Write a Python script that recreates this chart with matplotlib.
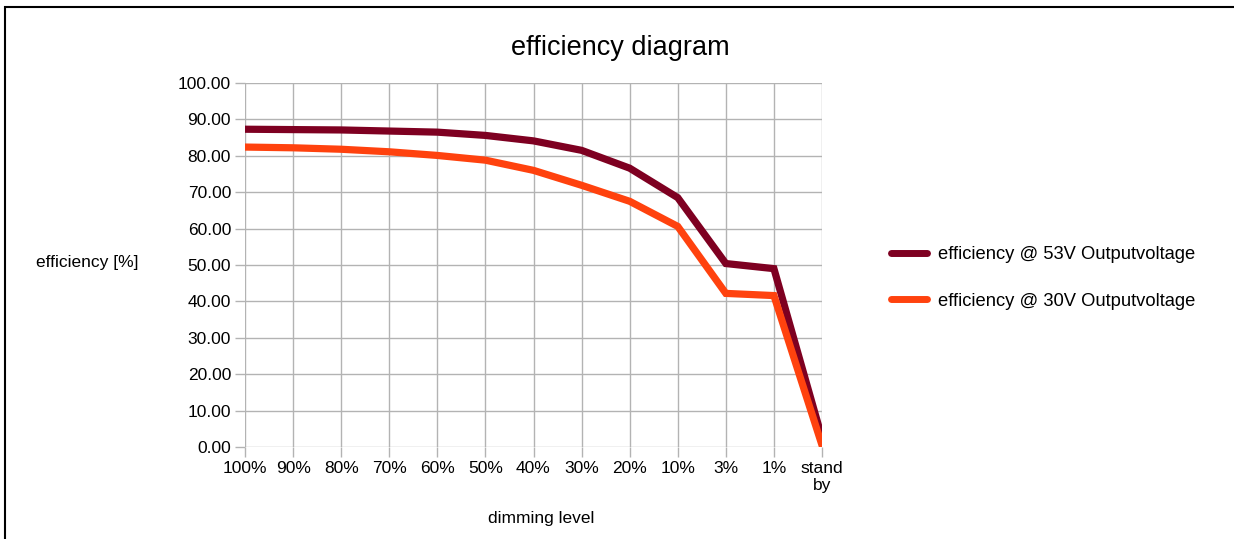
import matplotlib
matplotlib.use('Agg')
import matplotlib.pyplot as plt
from matplotlib.lines import Line2D

# dimming levels (x categories)
niveis = ['100%', '90%', '80%', '70%', '60%', '50%', '40%', '30%', '20%', '10%', '3%', '1%', 'stand\nby']

# efficiency values
ef_53v = [87.3, 87.2, 87.1, 86.8, 86.5, 85.6, 84.1, 81.5, 76.6, 68.5, 50.4, 49.0, 2.5]
ef_30v = [82.4, 82.2, 81.8, 81.1, 80.1, 78.8, 76.0, 71.9, 67.5, 60.6, 42.2, 41.6, 0.5]

cor_53v = '#7e0021'
cor_30v = '#ff420e'

plt.rcParams['font.family'] = ['Liberation Sans', 'DejaVu Sans']

fig = plt.figure(figsize=(12.34, 5.39), dpi=100)
ax = fig.add_axes([245 / 1234, 1 - 447 / 539, 577 / 1234, 364 / 539])

x = list(range(len(niveis)))
ax.plot(x, ef_53v, color=cor_53v, lw=5.2, solid_joinstyle='miter', zorder=3)
ax.plot(x, ef_30v, color=cor_30v, lw=5.2, solid_joinstyle='miter', zorder=3)

ax.set_xlim(0, len(niveis) - 1)
ax.set_ylim(0, 100)
ax.set_xticks(x)
ax.set_xticklabels(niveis, fontsize=12.5)
ax.set_yticks(range(0, 101, 10))
ax.set_yticklabels([f'{v:.2f}' for v in range(0, 101, 10)], fontsize=12.5)
ax.grid(True, color='#b3b3b3', lw=1)
ax.set_axisbelow(True)
for s in ax.spines.values():
    s.set_visible(False)
ax.tick_params(axis='both', color='#b3b3b3', length=7, width=1, pad=3)

fig.text(620 / 1234, 1 - 48 / 539, 'efficiency diagram', ha='center', va='center', fontsize=19.5)
fig.text(87 / 1234, 1 - 262 / 539, 'efficiency [%]', ha='center', va='center', fontsize=12.5)
fig.text(541 / 1234, 1 - 518 / 539, 'dimming level', ha='center', va='center', fontsize=12.5)

handles = [Line2D([], [], color=cor_53v, lw=5, solid_capstyle='round'),
           Line2D([], [], color=cor_30v, lw=5, solid_capstyle='round')]
fig.legend(handles, ['efficiency @ 53V Outputvoltage', 'efficiency @ 30V Outputvoltage'],
           loc='center left', bbox_to_anchor=(874 / 1234, 1 - 278 / 539), frameon=False,
           fontsize=13.2, handlelength=2.0, handletextpad=0.6, labelspacing=1.6)

# moldura da figura
fig.add_artist(plt.Rectangle((5 / 1234, -0.1), 1.5, 1 - 7 / 539 + 0.1,
                             transform=fig.transFigure, fill=False, ec='black', lw=1.5))

fig.savefig('out.png', dpi=100)
